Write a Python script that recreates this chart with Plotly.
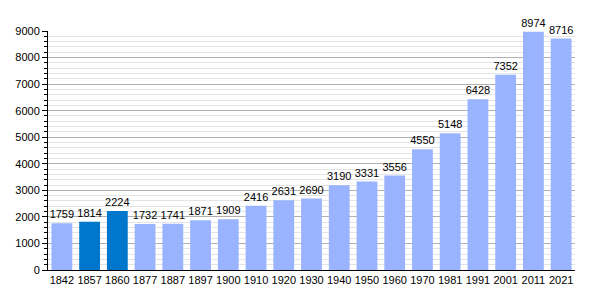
import plotly.graph_objects as go

years = ["1842", "1857", "1860", "1877", "1887", "1897", "1900", "1910", "1920", "1930",
         "1940", "1950", "1960", "1970", "1981", "1991", "2001", "2011", "2021"]
population = [1759, 1814, 2224, 1732, 1741, 1871, 1909, 2416, 2631, 2690,
              3190, 3331, 3556, 4550, 5148, 6428, 7352, 8974, 8716]
highlight = ["1857", "1860"]

light = "#99b3ff"
dark = "#0077cc"
colors = [dark if y in highlight else light for y in years]

fig = go.Figure(go.Bar(
    x=years, y=population,
    marker=dict(color=colors, line=dict(width=0)),
    text=[str(v) for v in population],
    textposition="outside",
    constraintext="none",
    textfont=dict(family="Liberation Sans, Arial, sans-serif", size=11, color="#000"),
    cliponaxis=False,
))

fig.update_layout(
    width=600, height=300,
    margin=dict(l=48, r=25, t=31, b=30),
    plot_bgcolor="white", paper_bgcolor="white",
    bargap=0.25,
    showlegend=False,
    uniformtext=dict(mode=False),
    font=dict(family="Liberation Sans, Arial, sans-serif", size=11, color="#000"),
)
fig.update_xaxes(
    type="category", range=[-0.5, 18.5],
    showline=True, linecolor="#000", linewidth=1,
    ticks="", tickfont=dict(size=11),
    showgrid=False,
)
fig.update_yaxes(
    range=[0, 9000], dtick=1000,
    showline=True, linecolor="#000", linewidth=1,
    ticks="outside", ticklen=5, tickcolor="#000",
    gridcolor="#b0b0b0", gridwidth=1,
    zeroline=False,
    tickfont=dict(size=11),
    minor=dict(dtick=200, ticks="outside", ticklen=3, tickcolor="#000",
               showgrid=True, gridcolor="#e4e4e4", gridwidth=1),
)

fig.write_html("out.html")
